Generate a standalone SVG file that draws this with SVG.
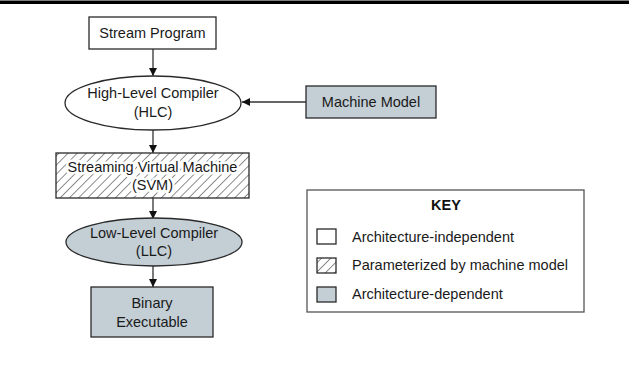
<svg xmlns="http://www.w3.org/2000/svg" width="629" height="366" viewBox="0 0 629 366">
  <defs>
    <style>
      .lbl { font-family: "Liberation Sans", Arial, sans-serif; font-size: 14.5px; fill: #1a1a1a; text-anchor: middle; }
      .halo { stroke: #ffffff; stroke-width: 5; stroke-linejoin: round; paint-order: stroke; }
      .keytxt { font-family: "Liberation Sans", Arial, sans-serif; font-size: 14.5px; fill: #1a1a1a; }
      .keyhead { font-family: "Liberation Sans", Arial, sans-serif; font-size: 14.5px; font-weight: bold; fill: #111; text-anchor: middle; }
      .plain { fill: #ffffff; stroke: #2a2a2a; stroke-width: 1.3; }
      .dep { fill: #c3ced5; stroke: #2a2a2a; stroke-width: 1.3; }
      .param { fill: url(#hatch); stroke: #2a2a2a; stroke-width: 1.3; }
      .conn { stroke: #333; stroke-width: 1.3; fill: none; marker-end: url(#arrow); }
    </style>
    <pattern id="hatch" patternUnits="userSpaceOnUse" width="6.5" height="6.5" patternTransform="rotate(45)">
      <rect width="6.5" height="6.5" fill="#ffffff"/>
      <line x1="0" y1="0" x2="0" y2="6.5" stroke="#1a1a1a" stroke-width="1"/>
    </pattern>
    <marker id="arrow" viewBox="0 0 10 10" refX="10" refY="5" markerWidth="8" markerHeight="8" markerUnits="userSpaceOnUse" orient="auto">
      <path d="M0,0 L10,5 L0,10 z" fill="#111"/>
    </marker>
  </defs>

  <!-- header rule -->
  <rect x="0" y="0.5" width="629" height="3.5" fill="#000"/>

  <!-- connectors -->
  <g id="connectors">
    <line class="conn" x1="153" y1="49" x2="153" y2="76"/>
    <line class="conn" x1="306" y1="102" x2="242" y2="102"/>
    <line class="conn" x1="153" y1="130" x2="153" y2="153"/>
    <line class="conn" x1="153" y1="198" x2="153" y2="219"/>
    <line class="conn" x1="153" y1="266" x2="153" y2="287"/>
  </g>

  <g id="stream-program">
    <rect class="plain" x="89" y="17" width="127" height="32"/>
    <text class="lbl" x="152.5" y="38">Stream Program</text>
  </g>

  <g id="hlc">
    <ellipse class="plain" cx="153" cy="103" rx="88" ry="27"/>
    <text class="lbl" x="153" y="98">High-Level Compiler</text>
    <text class="lbl" x="153" y="117">(HLC)</text>
  </g>

  <g id="machine-model">
    <rect class="dep" x="306" y="86" width="130" height="32"/>
    <text class="lbl" x="371" y="107">Machine Model</text>
  </g>

  <g id="svm">
    <rect class="param" x="56" y="153" width="193" height="45"/>
    <text class="lbl halo" x="152.5" y="172">Streaming Virtual Machine</text>
    <text class="lbl halo" x="152.5" y="190">(SVM)</text>
  </g>

  <g id="llc">
    <ellipse class="dep" cx="154" cy="242" rx="88" ry="24"/>
    <text class="lbl" x="154" y="238">Low-Level Compiler</text>
    <text class="lbl" x="154" y="256">(LLC)</text>
  </g>

  <g id="binary-executable">
    <rect class="dep" x="91" y="287" width="122" height="50"/>
    <text class="lbl" x="152" y="308">Binary</text>
    <text class="lbl" x="152" y="327">Executable</text>
  </g>

  <g id="key">
    <rect x="307" y="190" width="277" height="122" fill="#ffffff" stroke="#555" stroke-width="1.3"/>
    <text class="keyhead" x="446" y="210">KEY</text>
    <rect class="plain" x="317" y="229" width="19" height="15"/>
    <text class="keytxt" x="352" y="241.5">Architecture-independent</text>
    <rect class="param" x="317" y="258" width="19" height="15"/>
    <text class="keytxt" x="352" y="270">Parameterized by machine model</text>
    <rect class="dep" x="317" y="287" width="19" height="15"/>
    <text class="keytxt" x="352" y="299">Architecture-dependent</text>
  </g>
</svg>
